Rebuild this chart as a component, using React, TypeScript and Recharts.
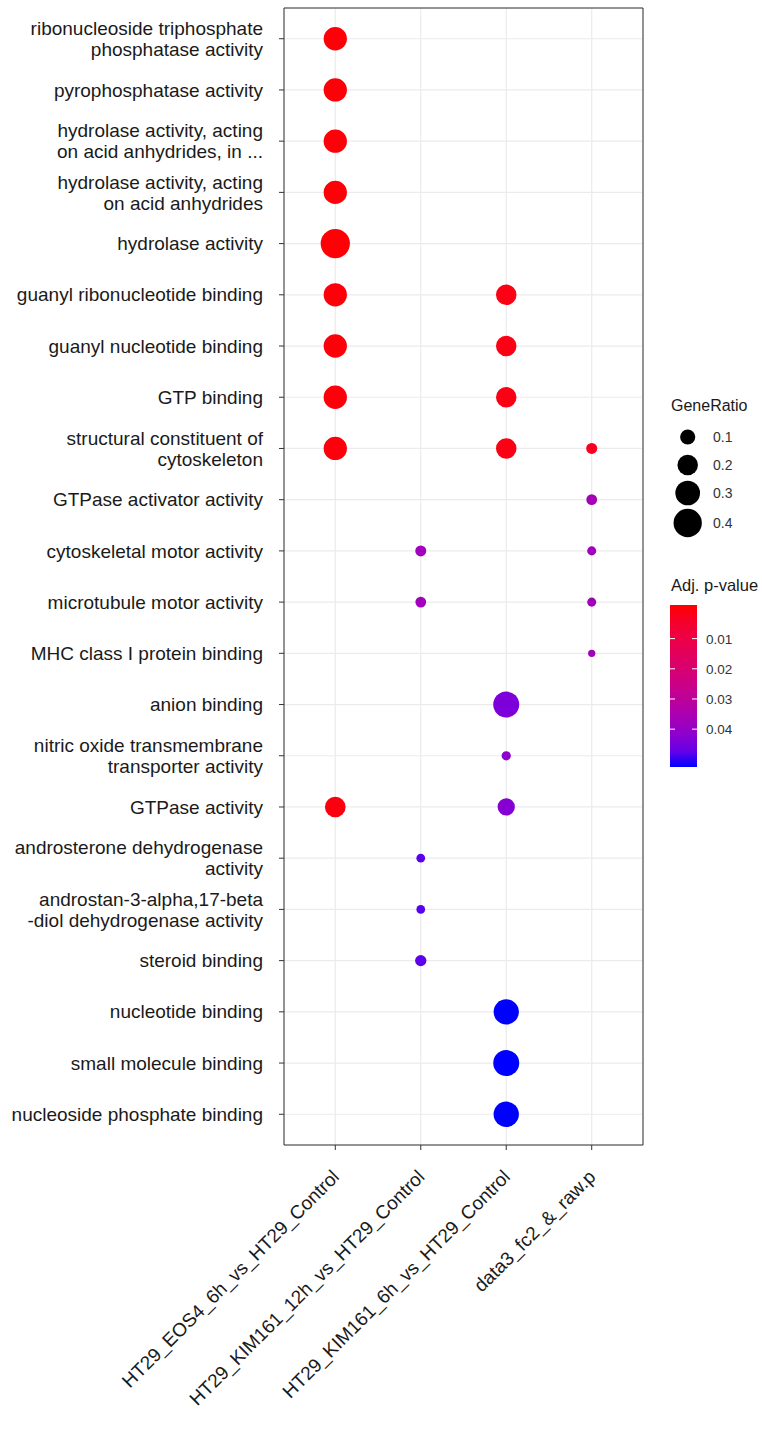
import {
  ScatterChart,
  Scatter,
  XAxis,
  YAxis,
  ZAxis,
  CartesianGrid,
  ReferenceArea,
  Cell,
} from "recharts";

const terms = [
  "ribonucleoside triphosphate\nphosphatase activity",
  "pyrophosphatase activity",
  "hydrolase activity, acting\non acid anhydrides, in ...",
  "hydrolase activity, acting\non acid anhydrides",
  "hydrolase activity",
  "guanyl ribonucleotide binding",
  "guanyl nucleotide binding",
  "GTP binding",
  "structural constituent of\ncytoskeleton",
  "GTPase activator activity",
  "cytoskeletal motor activity",
  "microtubule motor activity",
  "MHC class I protein binding",
  "anion binding",
  "nitric oxide transmembrane\ntransporter activity",
  "GTPase activity",
  "androsterone dehydrogenase\nactivity",
  "androstan-3-alpha,17-beta\n-diol dehydrogenase activity",
  "steroid binding",
  "nucleotide binding",
  "small molecule binding",
  "nucleoside phosphate binding",
];

const groups = [
  "HT29_EOS4_6h_vs_HT29_Control",
  "HT29_KIM161_12h_vs_HT29_Control",
  "HT29_KIM161_6h_vs_HT29_Control",
  "data3_fc2_&_raw.p",
];

// GeneRatio / adjusted p per term, null = term not enriched in that comparison
const eos4Ratio = [0.265, 0.265, 0.265, 0.265, 0.43, 0.265, 0.265, 0.265, 0.265, null, null, null, null, null, null, 0.204, null, null, null, null, null, null];
const eos4Padj = [0.0008, 0.0008, 0.0008, 0.0008, 0.0005, 0.001, 0.001, 0.001, 0.0012, null, null, null, null, null, null, 0.0015, null, null, null, null, null, null];

const kim12Ratio = [null, null, null, null, null, null, null, null, null, null, 0.043, 0.04, null, null, null, null, 0.019, 0.019, 0.046, null, null, null];
const kim12Padj = [null, null, null, null, null, null, null, null, null, null, 0.037, 0.037, null, null, null, null, 0.0475, 0.0475, 0.047, null, null, null];

const kim6Ratio = [null, null, null, null, null, 0.2, 0.2, 0.2, 0.2, null, null, null, null, 0.335, 0.024, 0.136, null, null, null, 0.316, 0.335, 0.316];
const kim6Padj = [null, null, null, null, null, 0.002, 0.002, 0.002, 0.002, null, null, null, null, 0.0435, 0.041, 0.042, null, null, null, 0.0512, 0.0512, 0.0512];

const data3Ratio = [null, null, null, null, null, null, null, null, 0.043, 0.04, 0.022, 0.022, 0.007, null, null, null, null, null, null, null, null, null];
const data3Padj = [null, null, null, null, null, null, null, null, 0.004, 0.036, 0.037, 0.037, 0.037, null, null, null, null, null, null, null, null, null];

const sizeBreaks = [0.1, 0.2, 0.3, 0.4];
const pBreaks = [0.01, 0.02, 0.03, 0.04];

const P_LO = 0.0002;
const P_HI = 0.0512;
const SIZE_DOMAIN = [0, 0.5];
const SIZE_RANGE = [31.4, 777.5];

const FONT = "'Liberation Sans', Arial, sans-serif";

// ggplot-style red -> blue gradient, interpolated in Lab
function toLinear(c: number) {
  c /= 255;
  return c <= 0.04045 ? c / 12.92 : Math.pow((c + 0.055) / 1.055, 2.4);
}
function toSrgb(c: number) {
  c = Math.max(0, Math.min(1, c));
  const v = c <= 0.0031308 ? 12.92 * c : 1.055 * Math.pow(c, 1 / 2.4) - 0.055;
  return Math.round(v * 255);
}
function rgbToLab(r: number, g: number, b: number) {
  const R = toLinear(r), G = toLinear(g), B = toLinear(b);
  const X = (0.4124 * R + 0.3576 * G + 0.1805 * B) / 0.95047;
  const Y = 0.2126 * R + 0.7152 * G + 0.0722 * B;
  const Z = (0.0193 * R + 0.1192 * G + 0.9505 * B) / 1.08883;
  const f = (t: number) => (t > 0.008856 ? Math.cbrt(t) : 7.787 * t + 16 / 116);
  const fx = f(X), fy = f(Y), fz = f(Z);
  return [116 * fy - 16, 500 * (fx - fy), 200 * (fy - fz)];
}
function labToHex(L: number, a: number, b: number) {
  const fy = (L + 16) / 116, fx = fy + a / 500, fz = fy - b / 200;
  const inv = (t: number) => (t * t * t > 0.008856 ? t * t * t : (t - 16 / 116) / 7.787);
  const X = inv(fx) * 0.95047, Y = inv(fy), Z = inv(fz) * 1.08883;
  const R = 3.2406 * X - 1.5372 * Y - 0.4986 * Z;
  const G = -0.9689 * X + 1.8758 * Y + 0.0415 * Z;
  const B = 0.0557 * X - 0.204 * Y + 1.057 * Z;
  return "#" + [R, G, B].map((c) => toSrgb(c).toString(16).padStart(2, "0")).join("");
}
const RED = rgbToLab(255, 0, 0);
const BLUE = rgbToLab(0, 0, 255);
function colorAt(t: number) {
  t = Math.max(0, Math.min(1, t));
  return labToHex(
    RED[0] + (BLUE[0] - RED[0]) * t,
    RED[1] + (BLUE[1] - RED[1]) * t,
    RED[2] + (BLUE[2] - RED[2]) * t
  );
}
const colorFor = (p: number) => colorAt((p - P_LO) / (P_HI - P_LO));
const diameterFor = (r: number) => {
  const area = SIZE_RANGE[0] + ((r - SIZE_DOMAIN[0]) / (SIZE_DOMAIN[1] - SIZE_DOMAIN[0])) * (SIZE_RANGE[1] - SIZE_RANGE[0]);
  return 2 * Math.sqrt(area / Math.PI);
};

const ratios = [eos4Ratio, kim12Ratio, kim6Ratio, data3Ratio];
const padjs = [eos4Padj, kim12Padj, kim6Padj, data3Padj];

const points = groups.flatMap((_, gi) =>
  ratios[gi]
    .map((r, ti) => (r == null ? null : { x: gi, y: ti, ratio: r, p: padjs[gi][ti] as number }))
    .filter((d): d is { x: number; y: number; ratio: number; p: number } => d !== null)
);

function YTick({ x, y, payload }: any) {
  const lines = terms[payload.value].split("\n");
  const lh = 21;
  const y0 = y - ((lines.length - 1) * lh) / 2;
  return (
    <text textAnchor="end" fontSize={19} fill="#1a1a1a" fontFamily={FONT}>
      {lines.map((l, i) => (
        <tspan key={i} x={x - 14} y={y0 + i * lh} dy="0.35em">
          {l}
        </tspan>
      ))}
    </text>
  );
}

function XTick({ x, y, payload }: any) {
  const ax = x - 5;
  const ay = y + 16;
  return (
    <text
      x={ax}
      y={ay}
      dy="0.75em"
      transform={`rotate(-45 ${ax} ${ay})`}
      textAnchor="end"
      fontSize={19}
      fill="#1a1a1a"
      fontFamily={FONT}
    >
      {groups[payload.value]}
    </text>
  );
}

function LegendPanel() {
  const keyY = [57, 85, 113, 143];
  const barTop = 225;
  const barH = 162;
  const barX = 30;
  const barW = 27;
  const nbin = 20;
  const tickY = (p: number) => barTop + (((p - P_LO) / (P_HI - P_LO)) * (nbin - 1) + 0.5) / nbin * barH;
  const stops = Array.from({ length: 11 }, (_, i) => i / 10);
  return (
    <svg width={122} height={400} style={{ position: "absolute", left: 640, top: 380 }} fontFamily={FONT}>
      <defs>
        <linearGradient id="pgrad" x1="0" y1="0" x2="0" y2="1">
          {stops.map((s) => (
            <stop key={s} offset={`${s * 100}%`} stopColor={colorAt(s)} />
          ))}
        </linearGradient>
      </defs>
      <text x={31} y={31} fontSize={16} fill="#1a1a1a">GeneRatio</text>
      {sizeBreaks.map((v, i) => (
        <g key={v}>
          <circle cx={47.7} cy={keyY[i]} r={diameterFor(v) / 2} fill="#000" />
          <text x={73} y={keyY[i] + 5} fontSize={14} fill="#333">{v}</text>
        </g>
      ))}
      <text x={31} y={211} fontSize={16.5} fill="#1a1a1a">Adj. p-value</text>
      <rect x={barX} y={barTop} width={barW} height={barH} fill="url(#pgrad)" />
      {pBreaks.map((p) => (
        <g key={p}>
          <line x1={barX} x2={barX + 5} y1={tickY(p)} y2={tickY(p)} stroke="#fff" strokeWidth={1} />
          <line x1={barX + barW - 5} x2={barX + barW} y1={tickY(p)} y2={tickY(p)} stroke="#fff" strokeWidth={1} />
          <text x={66} y={tickY(p) + 5} fontSize={13.5} fill="#333">{p}</text>
        </g>
      ))}
    </svg>
  );
}

export default function App() {
  return (
    <div style={{ position: "absolute", left: 0, top: 0, width: 762, height: 1434, background: "#fff" }}>
      <ScatterChart width={762} height={1434} margin={{ top: 8, right: 119, bottom: 0, left: 0 }}>
        <CartesianGrid stroke="#ebebeb" strokeWidth={1.2} />
        <XAxis
          type="number"
          dataKey="x"
          domain={[-0.6, 3.6]}
          ticks={[0, 1, 2, 3]}
          interval={0}
          height={289}
          axisLine={false}
          tickLine={{ stroke: "#333" }}
          tickSize={5}
          tick={<XTick />}
        />
        <YAxis
          type="number"
          dataKey="y"
          domain={[-0.6, 21.6]}
          reversed
          ticks={terms.map((_, i) => i)}
          interval={0}
          width={284}
          axisLine={false}
          tickLine={{ stroke: "#333" }}
          tickSize={5}
          tick={<YTick />}
        />
        <ZAxis type="number" dataKey="ratio" domain={SIZE_DOMAIN} range={SIZE_RANGE} />
        <ReferenceArea x1={-0.6} x2={3.6} y1={-0.6} y2={21.6} fill="none" stroke="#333" strokeWidth={1} />
        <Scatter data={points} isAnimationActive={false}>
          {points.map((d, i) => (
            <Cell key={i} fill={colorFor(d.p)} />
          ))}
        </Scatter>
      </ScatterChart>
      <LegendPanel />
    </div>
  );
}
